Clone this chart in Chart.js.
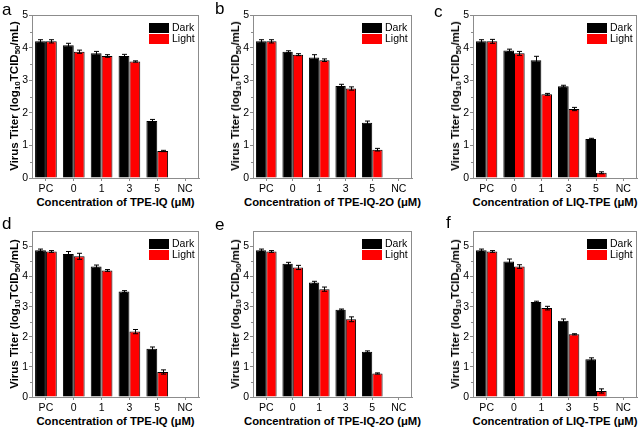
<!DOCTYPE html>
<html>
<head>
<meta charset="utf-8">
<script src="https://cdn.jsdelivr.net/npm/chart.js@4"></script>
<style>
  body { margin: 0; background: #fff; }
  #fig { position: relative; width: 640px; height: 430px; overflow: hidden; background: #fff;
         font-family: "Liberation Sans", Arial, sans-serif; }
  #fig canvas { position: absolute; }
  .letter { position: absolute; font-size: 17px; line-height: 1; color: #000; }
  .ytitle { position: absolute; font-size: 11.5px; font-weight: bold; white-space: nowrap; color: #000;
            transform: translate(-50%, -50%) rotate(-90deg); }
  .ytitle sub { font-size: 8px; vertical-align: -2px; line-height: 0; }
  .xtitle { position: absolute; font-size: 11.3px; font-weight: bold; white-space: nowrap; color: #000;
            transform: translate(-50%, -50%); line-height: 1; }
  .legend { position: absolute; font-size: 10.5px; color: #000; }
  .legend div { height: 11px; line-height: 11px; display: flex; align-items: center; }
  .legend span { display: inline-block; width: 20px; height: 10px; margin-right: 3px; }
</style>
</head>
<body>
<div id="fig"></div>
<script>
// ─── Datos ────────────────────────────────────────────────────
const categories = ["PC", "0", "1", "3", "5", "NC"];
const seriesNames = ["Dark", "Light"];
const compounds = ["TPE-IQ", "TPE-IQ-2O", "LIQ-TPE", "TPE-IQ", "TPE-IQ-2O", "LIQ-TPE"];
const yMaxTop = 5;
const yMaxBottom = 5.5;
const yTicks = [0, 1, 2, 3, 4, 5];

const aDark     = [4.20, 4.08, 3.83, 3.75, 1.75, 0];
const aLight    = [4.20, 3.88, 3.75, 3.58, 0.83, 0];
const aDarkErr  = [0.05, 0.06, 0.06, 0.05, 0.05, 0];
const aLightErr = [0.05, 0.05, 0.04, 0.02, 0.02, 0];

const bDark     = [4.20, 3.88, 3.70, 2.83, 1.70, 0];
const bLight    = [4.20, 3.79, 3.62, 2.75, 0.87, 0];
const bDarkErr  = [0.05, 0.03, 0.09, 0.05, 0.05, 0];
const bLightErr = [0.05, 0.03, 0.04, 0.05, 0.04, 0];

const cDark     = [4.20, 3.92, 3.62, 2.82, 1.20, 0];
const cLight    = [4.20, 3.83, 2.57, 2.12, 0.16, 0];
const cDarkErr  = [0.05, 0.04, 0.12, 0.03, 0.02, 0];
const cLightErr = [0.06, 0.06, 0.03, 0.05, 0.03, 0];

const dDark     = [4.87, 4.75, 4.33, 3.50, 1.60, 0];
const dLight    = [4.83, 4.67, 4.20, 2.17, 0.83, 0];
const dDarkErr  = [0.04, 0.08, 0.05, 0.03, 0.06, 0];
const dLightErr = [0.03, 0.10, 0.03, 0.07, 0.07, 0];

const eDark     = [4.87, 4.42, 3.80, 2.90, 1.50, 0];
const eLight    = [4.83, 4.30, 3.58, 2.58, 0.78, 0];
const eDarkErr  = [0.04, 0.05, 0.04, 0.02, 0.03, 0];
const eLightErr = [0.03, 0.07, 0.07, 0.08, 0.02, 0];

const fDark     = [4.87, 4.50, 3.15, 2.53, 1.25, 0];
const fLight    = [4.83, 4.33, 2.95, 2.08, 0.20, 0];
const fDarkErr  = [0.04, 0.08, 0.03, 0.06, 0.05, 0];
const fLightErr = [0.03, 0.06, 0.06, 0.02, 0.07, 0];

// ─── Paneles (layout) ─────────────────────────────────────────
const panels = [
  { letter: "a", dark: aDark, light: aLight, darkErr: aDarkErr, lightErr: aLightErr, yMax: yMaxTop,
    L: 32,  T: 14,  R: 199, B: 178, lx: 2,   ly: 1 },
  { letter: "b", dark: bDark, light: bLight, darkErr: bDarkErr, lightErr: bLightErr, yMax: yMaxTop,
    L: 253, T: 14,  R: 412, B: 178, lx: 215, ly: 0 },
  { letter: "c", dark: cDark, light: cLight, darkErr: cDarkErr, lightErr: cLightErr, yMax: yMaxTop,
    L: 473, T: 14,  R: 637, B: 178, lx: 434, ly: 3 },
  { letter: "d", dark: dDark, light: dLight, darkErr: dDarkErr, lightErr: dLightErr, yMax: yMaxBottom,
    L: 32,  T: 230, R: 199, B: 397, lx: 2,   ly: 215 },
  { letter: "e", dark: eDark, light: eLight, darkErr: eDarkErr, lightErr: eLightErr, yMax: yMaxBottom,
    L: 253, T: 230, R: 412, B: 397, lx: 215, ly: 216 },
  { letter: "f", dark: fDark, light: fLight, darkErr: fDarkErr, lightErr: fLightErr, yMax: yMaxBottom,
    L: 473, T: 230, R: 637, B: 397, lx: 446, ly: 214 },
];

const AXIS_W = 22;   // ancho eje y (ticks + números)
const AXIS_H = 18;   // alto eje x (ticks + números)
const PAD_T = 6, PAD_R = 3;
const FRAME = "#8c8c8c";

Chart.defaults.font.family = "'Liberation Sans', Arial, sans-serif";
Chart.defaults.color = "#000";

// ─── Plugins ──────────────────────────────────────────────────
const errorBars = {
  id: "errorBars",
  afterDatasetsDraw(chart) {
    const { ctx } = chart;
    const y = chart.scales.y;
    ctx.save();
    ctx.strokeStyle = "#000";
    ctx.lineWidth = 1;
    chart.data.datasets.forEach((ds, i) => {
      chart.getDatasetMeta(i).data.forEach((bar, j) => {
        const v = ds.data[j], e = ds.errors[j];
        if (!v || !e) return;
        const x = Math.round(bar.x) + 0.5;
        const top = y.getPixelForValue(v + e);
        const bot = y.getPixelForValue(v - e);
        ctx.beginPath();
        ctx.moveTo(x, top); ctx.lineTo(x, bot);
        ctx.moveTo(x - 2.5, top); ctx.lineTo(x + 2.5, top);
        ctx.moveTo(x - 2.5, bot); ctx.lineTo(x + 2.5, bot);
        ctx.stroke();
      });
    });
    ctx.restore();
  }
};

const frame = {
  id: "frame",
  afterDraw(chart) {
    const { ctx, chartArea: a } = chart;
    const y = chart.scales.y;
    ctx.save();
    ctx.strokeStyle = FRAME;
    ctx.lineWidth = 1;
    ctx.strokeRect(Math.round(a.left) + 0.5, Math.round(a.top) + 0.5,
                   Math.round(a.right - a.left) - 1, Math.round(a.bottom - a.top));
    // ticks menores cada 0.5
    ctx.beginPath();
    for (let v = 0.5; v < y.max; v += 1) {
      const py = Math.round(y.getPixelForValue(v)) + 0.5;
      ctx.moveTo(a.left, py); ctx.lineTo(a.left - 2, py);
    }
    ctx.stroke();
    ctx.restore();
  }
};

// ─── Render ───────────────────────────────────────────────────
const fig = document.getElementById("fig");

function addEl(cls, html, style) {
  const el = document.createElement("div");
  el.className = cls;
  el.innerHTML = html;
  Object.assign(el.style, style);
  fig.appendChild(el);
  return el;
}

function makePanel(p, idx) {
  const canvas = document.createElement("canvas");
  const w = AXIS_W + (p.R - p.L) + PAD_R;
  const h = PAD_T + (p.B - p.T) + AXIS_H;
  canvas.width = w; canvas.height = h;
  canvas.style.left = (p.L - AXIS_W) + "px";
  canvas.style.top = (p.T - PAD_T) + "px";
  fig.appendChild(canvas);

  const border = c => (c.raw ? 1 : 0);

  new Chart(canvas, {
    type: "bar",
    data: {
      labels: categories,
      datasets: [
        { label: seriesNames[0], data: p.dark, errors: p.darkErr,
          backgroundColor: "#000", borderColor: "#000", borderWidth: border },
        { label: seriesNames[1], data: p.light, errors: p.lightErr,
          backgroundColor: "#ff0000", borderColor: "#000", borderWidth: border },
      ]
    },
    options: {
      responsive: false, animation: false,
      layout: { padding: { top: PAD_T, right: PAD_R, left: 0, bottom: 0 } },
      plugins: { legend: { display: false }, tooltip: { enabled: false } },
      datasets: { bar: { categoryPercentage: 0.78, barPercentage: 1, borderSkipped: "start" } },
      scales: {
        x: {
          grid: { offset: false, drawOnChartArea: false, tickLength: 3, color: FRAME },
          border: { color: FRAME },
          ticks: { font: { size: 10.5 }, padding: 2, maxRotation: 0 },
          afterFit: s => { s.height = AXIS_H; }
        },
        y: {
          min: 0, max: p.yMax,
          afterBuildTicks: s => { s.ticks = yTicks.map(v => ({ value: v })); },
          grid: { drawOnChartArea: false, tickLength: 3, color: FRAME },
          border: { color: FRAME },
          ticks: { font: { size: 10.5 }, padding: 1 },
          afterFit: s => { s.width = AXIS_W; }
        }
      }
    },
    plugins: [errorBars, frame]
  });

  addEl("letter", p.letter, { left: p.lx + "px", top: p.ly + "px" });
  addEl("ytitle", "Virus Titer (log<sub>10</sub>TCID<sub>50</sub>/mL)",
        { left: (p.L - 18) + "px", top: ((p.T + p.B) / 2) + "px" });
  addEl("xtitle", "Concentration of " + compounds[idx] + " (μM)",
        { left: ((p.L + p.R) / 2) + "px", top: (p.B + 25) + "px" });
  addEl("legend",
        `<div><span style="background:#000"></span>${seriesNames[0]}</div>` +
        `<div><span style="background:#ff0000"></span>${seriesNames[1]}</div>`,
        { left: (p.R - 50) + "px", top: (p.T + 8) + "px" });
}

panels.forEach(makePanel);
</script>
</body>
</html>
